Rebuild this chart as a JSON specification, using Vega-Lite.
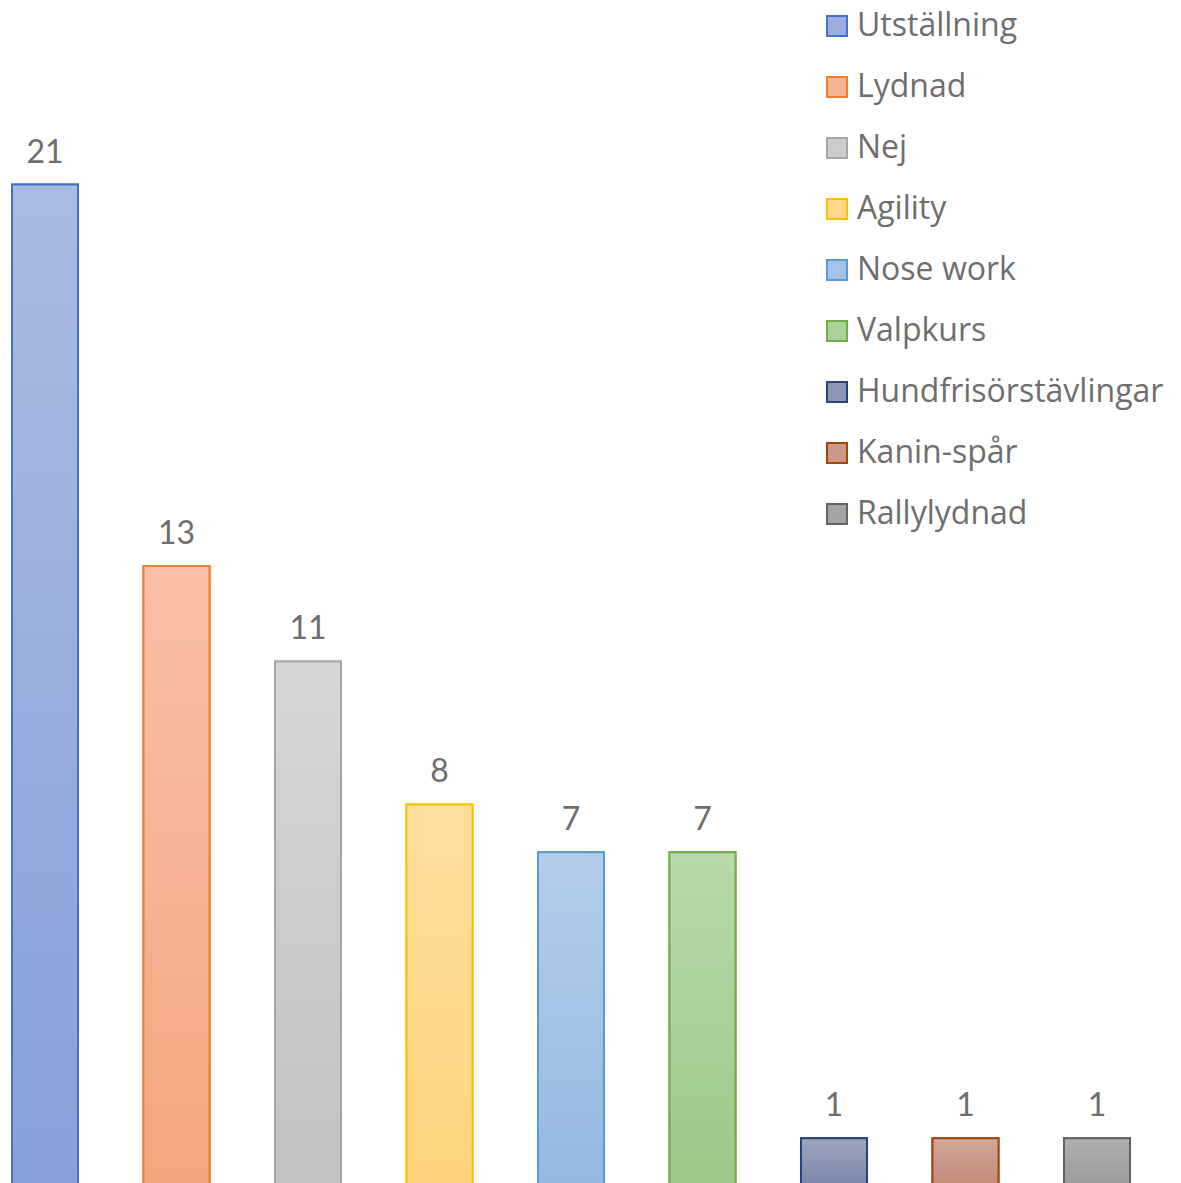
{
  "$schema": "https://vega.github.io/schema/vega-lite/v6.json",
  "width": 1142,
  "height": 1186,
  "autosize": {"type": "none"},
  "padding": {"left": 0, "top": 0, "right": 39, "bottom": 0},
  "background": "white",
  "config": {"view": {"stroke": null}, "font": "Lato"},
  "data": {"values": [
    {"cat": "Utställning", "n": 21},
    {"cat": "Lydnad", "n": 13},
    {"cat": "Nej", "n": 11},
    {"cat": "Agility", "n": 8},
    {"cat": "Nose work", "n": 7},
    {"cat": "Valpkurs", "n": 7},
    {"cat": "Hundfrisörstävlingar", "n": 1},
    {"cat": "Kanin-spår", "n": 1},
    {"cat": "Rallylydnad", "n": 1}
  ]},
  "encoding": {
    "x": {"field": "cat", "type": "nominal", "sort": null, "axis": null,
      "scale": {"paddingInner": 0.498, "paddingOuter": 0.0913}},
    "y": {"field": "n", "type": "quantitative", "axis": null,
      "scale": {"domain": [0, 24.87], "nice": false}},
    "stroke": {"field": "cat", "type": "nominal", "sort": null,
      "scale": {"domain": ["Utställning","Lydnad","Nej","Agility","Nose work","Valpkurs","Hundfrisörstävlingar","Kanin-spår","Rallylydnad"],
        "range": ["#4472C4","#ED7D31","#A5A5A5","#FFC000","#5B9BD5","#70AD47","#264478","#9E480E","#636363"]},
      "legend": {
        "title": null, "orient": "none", "legendX": 821, "legendY": 10,
        "symbolType": "square", "symbolSize": 400, "symbolStrokeWidth": 2,
        "labelFontSize": 32, "labelColor": "#6E6E6E", "labelFont": "Open Sans",
        "labelOffset": 4, "rowPadding": 29, "labelLimit": 400
      }
    }
  },
  "layer": [
    {
      "mark": {"type": "bar", "strokeWidth": 2},
      "encoding": {
        "fill": {"field": "cat", "type": "nominal", "sort": null,
          "scale": {"domain": ["Utställning","Lydnad","Nej","Agility","Nose work","Valpkurs","Hundfrisörstävlingar","Kanin-spår","Rallylydnad"],
            "range": ["#9CAEDD","#F7B394","#CCCCCC","#FED98D","#A4C3E6","#ABD099","#8B96B3","#CB9889","#A5A5A5"]}}
      }
    },
    {
      "mark": {"type": "bar", "strokeWidth": 2},
      "encoding": {
        "fill": {
          "condition": [
            {"test": "datum.cat === 'Utställning'", "value": {"gradient": "linear", "x1": 0, "y1": 0, "x2": 0, "y2": 1, "stops": [{"offset": 0, "color": "#ABBAE2"}, {"offset": 1, "color": "#87A0D8"}]}},
            {"test": "datum.cat === 'Lydnad'", "value": {"gradient": "linear", "x1": 0, "y1": 0, "x2": 0, "y2": 1, "stops": [{"offset": 0, "color": "#F8C0A6"}, {"offset": 1, "color": "#F5A580"}]}},
            {"test": "datum.cat === 'Nej'", "value": {"gradient": "linear", "x1": 0, "y1": 0, "x2": 0, "y2": 1, "stops": [{"offset": 0, "color": "#D6D6D6"}, {"offset": 1, "color": "#C2C2C2"}]}},
            {"test": "datum.cat === 'Agility'", "value": {"gradient": "linear", "x1": 0, "y1": 0, "x2": 0, "y2": 1, "stops": [{"offset": 0, "color": "#FFDE9F"}, {"offset": 1, "color": "#FDD37C"}]}},
            {"test": "datum.cat === 'Nose work'", "value": {"gradient": "linear", "x1": 0, "y1": 0, "x2": 0, "y2": 1, "stops": [{"offset": 0, "color": "#B4CDEA"}, {"offset": 1, "color": "#94B8E2"}]}},
            {"test": "datum.cat === 'Valpkurs'", "value": {"gradient": "linear", "x1": 0, "y1": 0, "x2": 0, "y2": 1, "stops": [{"offset": 0, "color": "#BAD8AB"}, {"offset": 1, "color": "#9BC886"}]}},
            {"test": "datum.cat === 'Hundfrisörstävlingar'", "value": {"gradient": "linear", "x1": 0, "y1": 0, "x2": 0, "y2": 1, "stops": [{"offset": 0, "color": "#9DA6BE"}, {"offset": 1, "color": "#7886A8"}]}},
            {"test": "datum.cat === 'Kanin-spår'", "value": {"gradient": "linear", "x1": 0, "y1": 0, "x2": 0, "y2": 1, "stops": [{"offset": 0, "color": "#D2A69A"}, {"offset": 1, "color": "#C38A78"}]}}
          ],
          "value": {"gradient": "linear", "x1": 0, "y1": 0, "x2": 0, "y2": 1, "stops": [{"offset": 0, "color": "#B0B0B0"}, {"offset": 1, "color": "#9A9A9A"}]}
        }
      }
    },
    {
      "mark": {"type": "text", "fontSize": 32, "color": "#6E6E6E", "baseline": "alphabetic", "dy": -22, "font": "Lato"},
      "encoding": {"text": {"field": "n", "type": "quantitative"}, "stroke": {"value": null}}
    }
  ]
}
